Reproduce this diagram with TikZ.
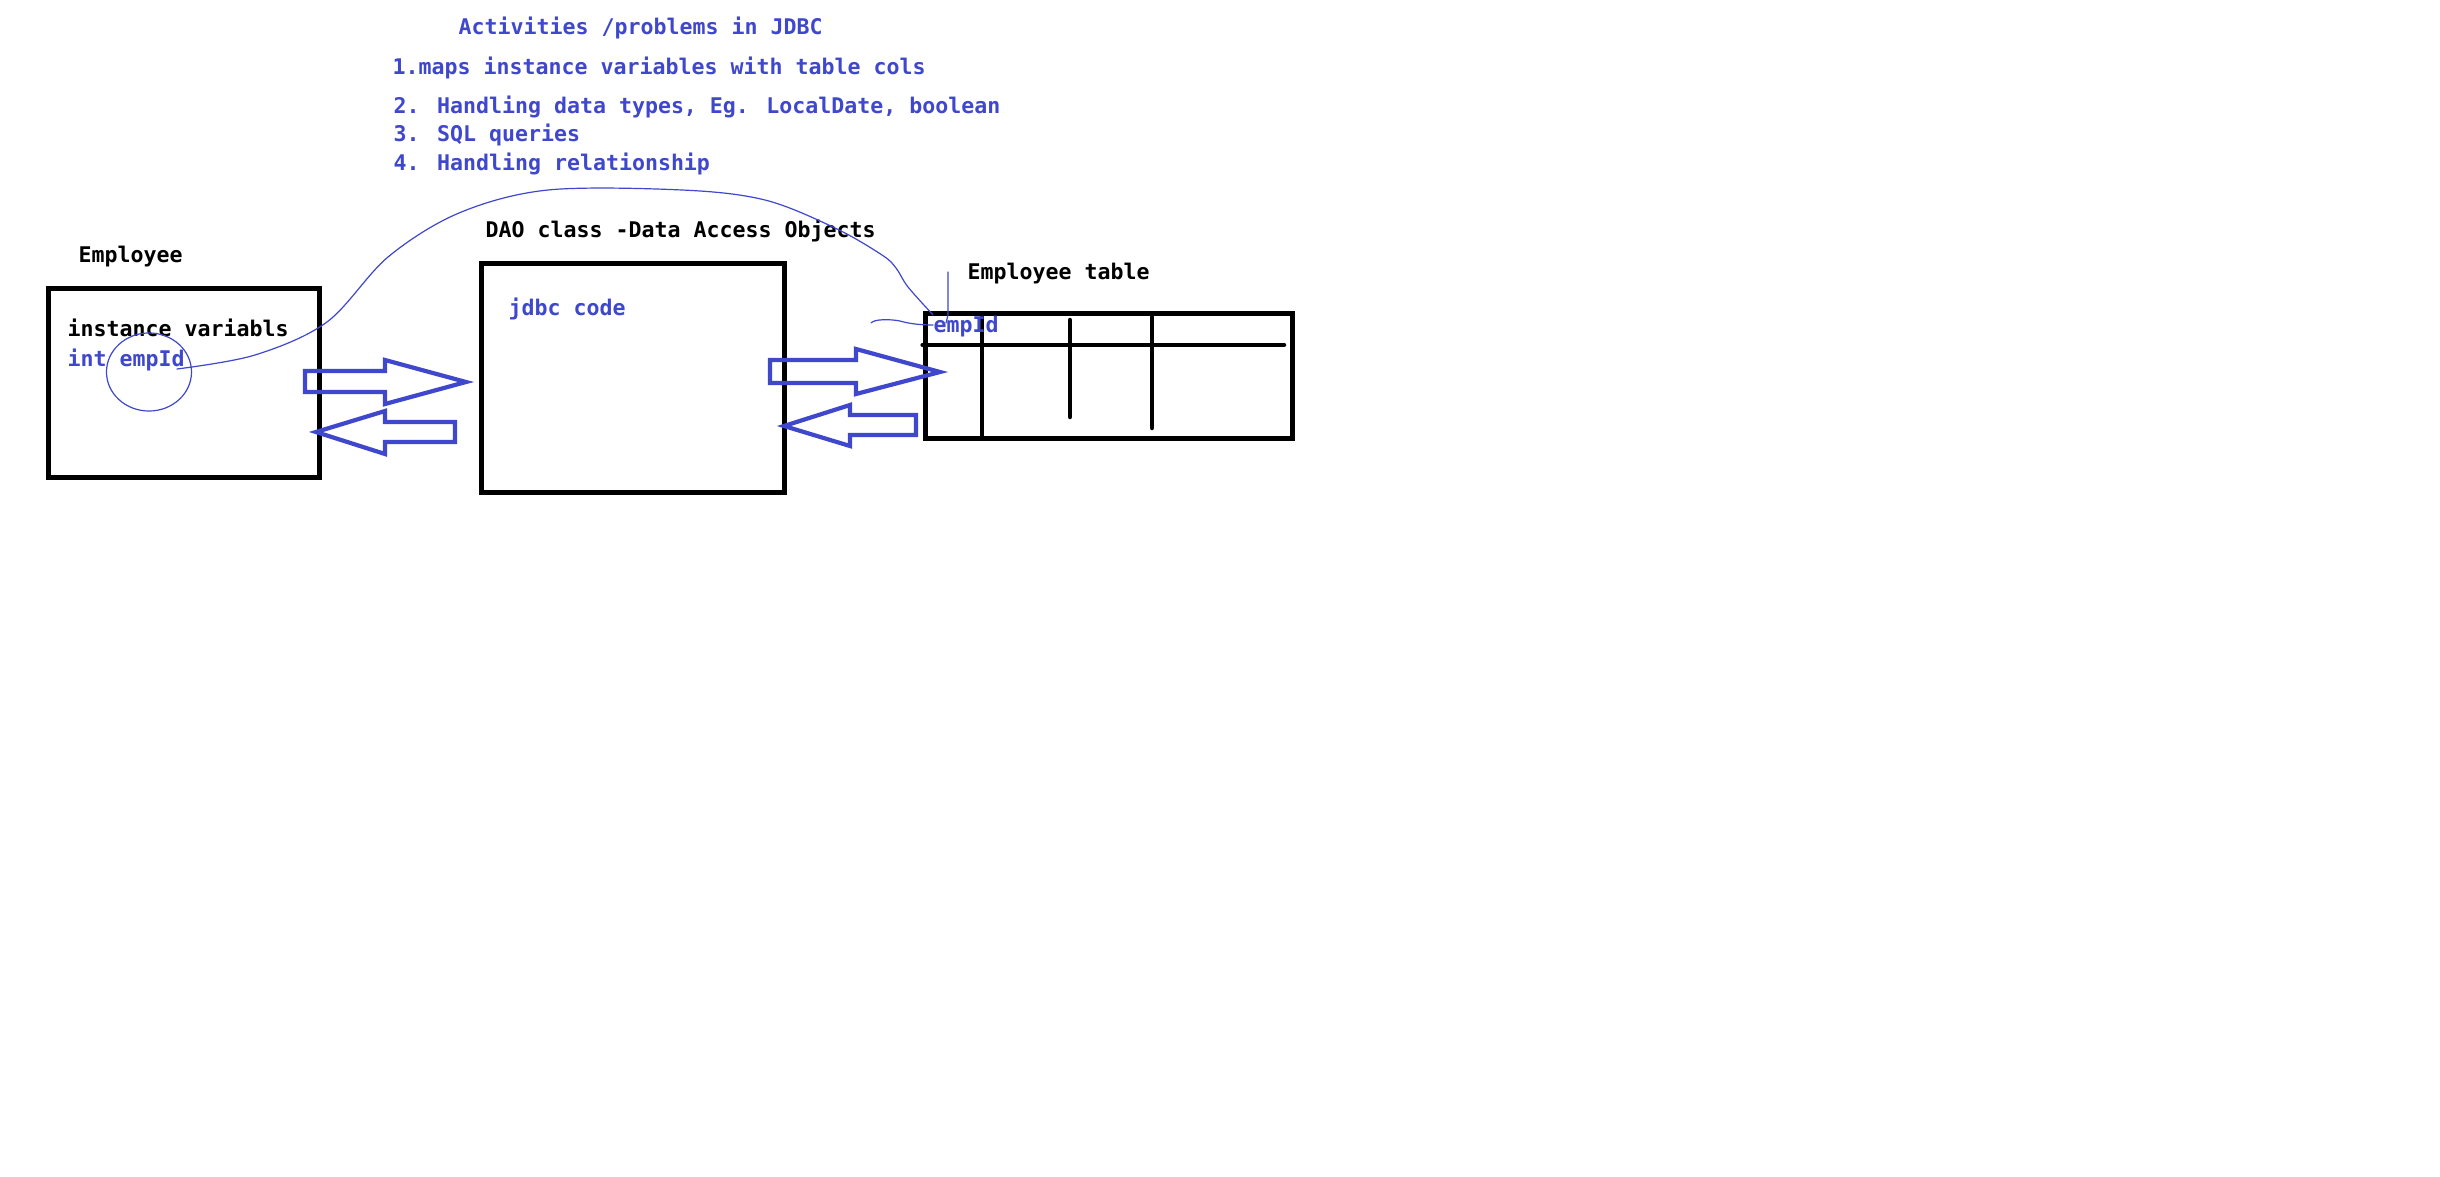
\documentclass[tikz,border=0pt]{standalone}
\usepackage{fontspec}
\usepackage{xcolor}
\usepackage{tikz}
\usetikzlibrary{shapes.geometric}
\newfontfamily\paintmono{DejaVu Sans Mono}
\definecolor{paintblue}{HTML}{3F48CC}
\colorlet{paintink}{black}

\begin{document}
\begin{tikzpicture}[x=0.01cm, y=-0.01cm,
    box/.style={draw=paintink, line width=0.05cm, inner sep=0pt},
    lbl/.style={font={\paintmono\bfseries\fontsize{6.14}{7.5}\selectfont},
        anchor=base west, inner sep=0pt},
    note/.style={lbl, text=paintblue},
    head/.style={lbl, text=paintink},
    blockarr/.style={draw=paintblue, line width=0.042cm, line join=miter},
    pen/.style={draw=paintblue, line width=0.012cm, line cap=round},
    rule/.style={draw=paintink, line width=0.045cm, line cap=round},
]

% ===== Canvas =====
\fill[white] (0,0) rectangle (2440,1176);
\useasboundingbox (0,0) rectangle (2440,1176);

% ===== Notes on top =====
\node[note] (title) at (458,35) {Activities /problems in JDBC};
\node[note] (itemA) at (392,75) {1.maps instance variables with table cols};
\node[note] (itemB) at (393,114) {2. Handling data types, Eg. LocalDate, boolean};
\node[note] (itemC) at (393,142) {3. SQL queries};
\node[note] (itemD) at (393,170) {4. Handling relationship};

% ===== Employee class =====
\node[head] (empcap) at (78,262) {Employee};
\node[box, minimum width=2.71cm, minimum height=1.88cm] (emp) at (184,383) {};
\node[head] (instvar) at (67,336) {instance variabls};
\node[note] (intvar) at (67,366) {int empId};
\node[ellipse, pen, minimum width=0.85cm, minimum height=0.78cm, inner sep=0pt] (ring) at (149,372) {};

% ===== DAO class =====
\node[head] (daocap) at (485,237) {DAO class -Data Access Objects};
\node[box, minimum width=3.02cm, minimum height=2.28cm] (dao) at (633,378) {};
\node[note] (jdbc) at (508,315) {jdbc code};

% ===== Employee table =====
\node[head] (tabcap) at (967,279) {Employee table};
\node[box, minimum width=3.675cm, minimum height=1.245cm] (tab) at (1109,376) {};
\draw[rule] (tab.north west |- 0,345) -- (1284,345);
\draw[rule] (982,314) -- (982,437);
\draw[rule] (1070,320) -- (1070,417);
\draw[rule] (1152,317) -- (1152,428);
\node[note] (tabid) at (933,332) {empId};

% ===== Block arrows =====
\draw[blockarr] (305,371) -- (385,371) -- (385,360) -- (466,382) -- (385,404)
  -- (385,392) -- (305,392) -- cycle;
\draw[blockarr] (316,432) -- (385,411) -- (385,422) -- (455,422) -- (455,442)
  -- (385,442) -- (385,454) -- cycle;
\draw[blockarr] (770,360) -- (856,360) -- (856,349) -- (940,372) -- (856,394)
  -- (856,383) -- (770,383) -- cycle;
\draw[blockarr] (784,426) -- (850,405) -- (850,415) -- (916,415) -- (916,435)
  -- (850,435) -- (850,446) -- cycle;

% ===== Hand strokes =====
\coordinate (hook) at (177,369);
\draw[pen] plot[smooth, tension=0.55] coordinates {(hook) (255,355) (327,322)
  (388,257) (459,213) (548,190) (682,190) (765,200) (835,228) (882,255)
  (896,268) (908,287) (tabid.north west)};
\draw[pen] (948,272) -- (948,315) -- (946,323);
\draw[pen] (871,323) .. controls (874,319) and (890,319) .. (900,321)
  .. controls (910,324) and (922,325) .. (933,325);

\end{tikzpicture}
\end{document}
